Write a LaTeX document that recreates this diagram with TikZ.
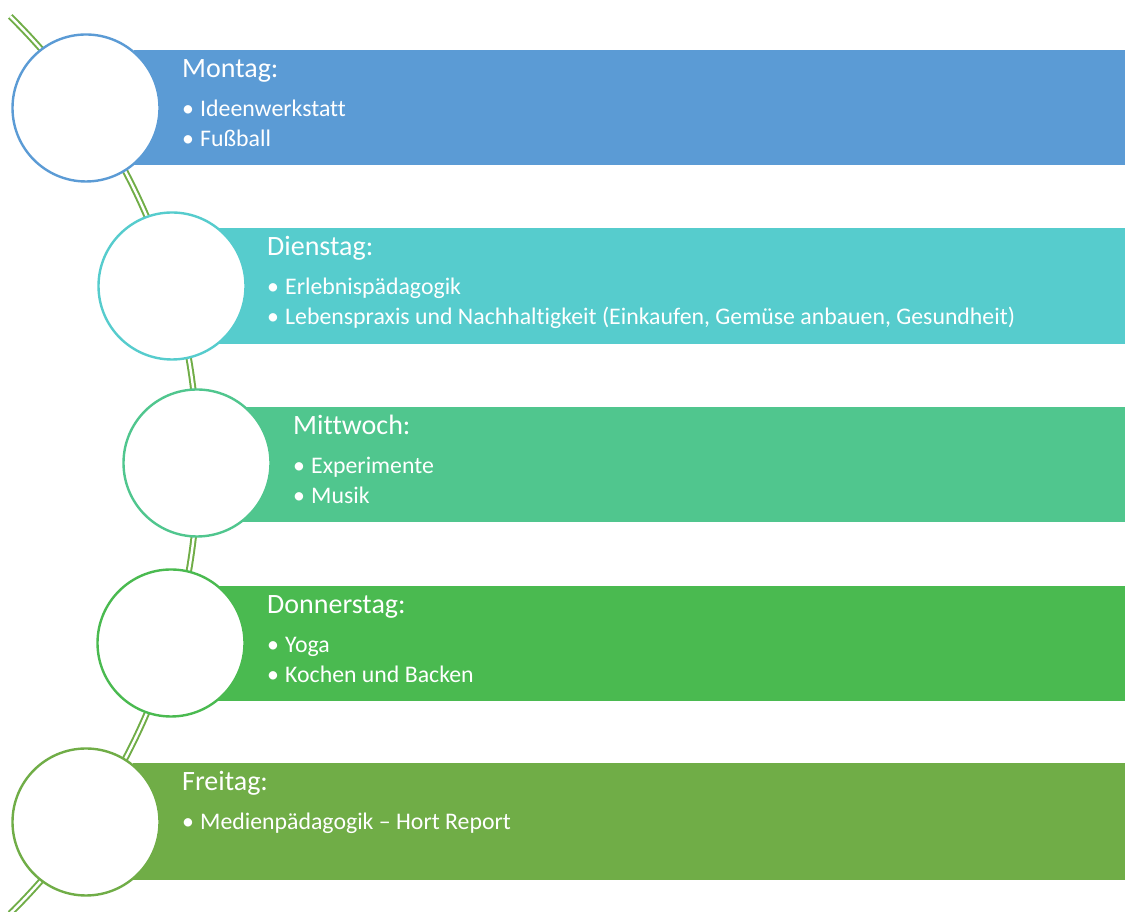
\documentclass[tikz,border=0pt]{standalone}
\usepackage{fontspec}
\setmainfont{Carlito}[Ligatures=NoCommon]
\definecolor{c1}{RGB}{91,155,213}
\definecolor{c2}{RGB}{86,204,205}
\definecolor{c3}{RGB}{80,198,142}
\definecolor{c4}{RGB}{74,186,80}
\definecolor{c5}{RGB}{112,173,71}
\newcommand{\bul}{\makebox[18pt][l]{•}}
\begin{document}
\begin{tikzpicture}[x=1pt,y=1pt,
  band/.style={fill=#1, draw=none},
  ring/.style={circle, draw=#1, fill=white, line width=2.4pt, minimum size=147pt, inner sep=0pt},
  daytitle/.style={anchor=base west, text=white, font=\fontsize{28}{30}\selectfont, inner sep=0pt},
  dayitem/.style={anchor=base west, text=white, font=\fontsize{23.8}{26}\selectfont, inner sep=0pt},
  spine/.style={draw=c5, line width=2pt, double=white, double distance=2.4pt}]
\useasboundingbox (0,0) rectangle (1125,912);
\begin{scope}
\clip (0,0) rectangle (1125,912);
% spine arc
\coordinate (arcstart) at (10.2,895.6);
\draw[spine] (arcstart) arc[start angle=45.4, end angle=-45.4, radius=630];
\end{scope}
% bands
\fill[band=c1] (134,747) rectangle (1125,862);
\fill[band=c2] (217,568) rectangle (1125,684);
\fill[band=c3] (243,390) rectangle (1125,505);
\fill[band=c4] (217,211) rectangle (1125,326);
\fill[band=c5] (133,32) rectangle (1125,149);
% circles
\node[ring=c1] (r1) at (86,804) {};
\node[ring=c2] (r2) at (172,626) {};
\node[ring=c3] (r3) at (197,449) {};
\node[ring=c4] (r4) at (171,269) {};
\node[ring=c5] (r5) at (86,90) {};
% texts
\node[daytitle] (t1) at (182,834) {Montag:};
\node[dayitem] (t1a) at (182,795) {\bul Ideenwerkstatt};
\node[dayitem] (t1b) at (182,765) {\bul Fußball};
\node[daytitle] (t2) at (267,656) {Dienstag:};
\node[dayitem] (t2a) at (267,617) {\bul Erlebnispädagogik};
\node[dayitem] (t2b) at (267,587) {\bul Lebenspraxis und Nachhaltigkeit (Einkaufen, Gemüse anbauen, Gesundheit)};
\node[daytitle] (t3) at (293,477) {Mittwoch:};
\node[dayitem] (t3a) at (293,438) {\bul Experimente};
\node[dayitem] (t3b) at (293,408) {\bul Musik};
\node[daytitle] (t4) at (267,298) {Donnerstag:};
\node[dayitem] (t4a) at (267,259) {\bul Yoga};
\node[dayitem] (t4b) at (267,229) {\bul Kochen und Backen};
\node[daytitle] (t5) at (182,121) {Freitag:};
\node[dayitem] (t5a) at (182,82) {\bul Medienpädagogik – Hort Report};
\end{tikzpicture}
\end{document}
